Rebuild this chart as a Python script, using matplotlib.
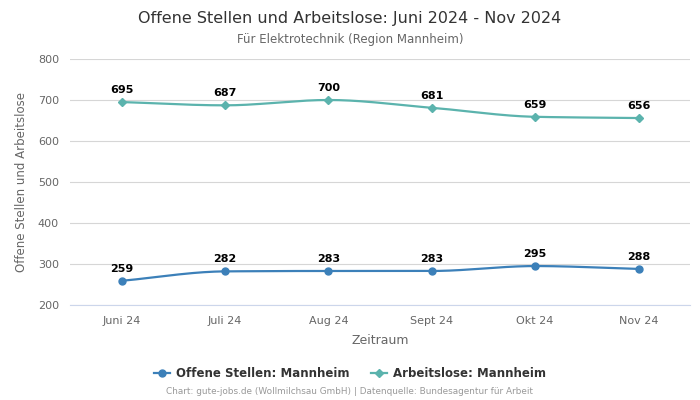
import numpy as np
import matplotlib
matplotlib.use('Agg')
import matplotlib.pyplot as plt

# chart data
months = ['Juni 24', 'Juli 24', 'Aug 24', 'Sept 24', 'Okt 24', 'Nov 24']
offene_stellen = [259, 282, 283, 283, 295, 288]
arbeitslose = [695, 687, 700, 681, 659, 656]

blue = '#3c80b9'
teal = '#5bb3ad'


def smooth(x, y, n=30):
    # monotone cubic (Fritsch-Carlson) between the points
    x = np.asarray(x, float)
    y = np.asarray(y, float)
    h = np.diff(x)
    d = np.diff(y) / h
    m = np.zeros_like(y)
    m[0], m[-1] = d[0], d[-1]
    for i in range(1, len(y) - 1):
        if d[i - 1] * d[i] <= 0:
            m[i] = 0
        else:
            m[i] = 2 / (1 / d[i - 1] + 1 / d[i])
    xs, ys = [], []
    for i in range(len(x) - 1):
        t = np.linspace(0, 1, n)
        h00 = 2 * t**3 - 3 * t**2 + 1
        h10 = t**3 - 2 * t**2 + t
        h01 = -2 * t**3 + 3 * t**2
        h11 = t**3 - t**2
        xs.append(x[i] + t * h[i])
        ys.append(h00 * y[i] + h10 * h[i] * m[i] + h01 * y[i + 1] + h11 * h[i] * m[i + 1])
    return np.concatenate(xs), np.concatenate(ys)


fig = plt.figure(figsize=(7, 4), dpi=100)
ax = fig.add_axes([0.1, 0.2375, 0.886, 0.615])

x = np.arange(len(months))
for vals, col, mk, ms, lab in [(offene_stellen, blue, 'o', 5, 'Offene Stellen: Mannheim'),
                               (arbeitslose, teal, 'D', 4, 'Arbeitslose: Mannheim')]:
    sx, sy = smooth(x, vals)
    ax.plot(sx, sy, color=col, lw=1.6, zorder=3)
    ax.plot(x, vals, ls='none', marker=mk, ms=ms, color=col, zorder=4)
    ax.plot([], [], color=col, marker=mk, ms=ms, lw=1.6, label=lab)
    for xi, v in zip(x, vals):
        ax.annotate(str(v), (xi, v), xytext=(0, 5), textcoords='offset points',
                    ha='center', va='bottom', fontsize=8, fontweight='bold', color='black')

ax.set_xlim(-0.5, len(months) - 0.5)
ax.set_ylim(200, 800)
ax.set_yticks(range(200, 801, 100))
ax.set_xticks(x)
ax.set_xticklabels(months)
ax.tick_params(axis='both', length=0, labelsize=8, colors='#666666', pad=8)
ax.grid(axis='y', color='#d6d6d6', lw=0.8)
ax.set_axisbelow(True)
for s in ['top', 'right', 'left']:
    ax.spines[s].set_visible(False)
ax.spines['bottom'].set_color('#ccd6eb')

ax.set_xlabel('Zeitraum', fontsize=9, color='#666666', labelpad=6)
ax.set_ylabel('Offene Stellen und Arbeitslose', fontsize=8.5, color='#666666', labelpad=7)

fig.text(0.5, 0.955, 'Offene Stellen und Arbeitslose: Juni 2024 - Nov 2024',
         ha='center', va='center', fontsize=11.5, color='#333333')
fig.text(0.5, 0.902, 'Für Elektrotechnik (Region Mannheim)',
         ha='center', va='center', fontsize=8.5, color='#666666')

fig.legend(loc='center', bbox_to_anchor=(0.5, 0.067), ncol=2, frameon=False,
           prop={'size': 8.5, 'weight': 'bold'}, labelcolor='#333333',
           handlelength=1.4, handletextpad=0.5, columnspacing=1.8)
fig.text(0.5, 0.02, 'Chart: gute-jobs.de (Wollmilchsau GmbH) | Datenquelle: Bundesagentur für Arbeit',
         ha='center', va='center', fontsize=6.4, color='#999999')

plt.savefig('out.png', dpi=100)
